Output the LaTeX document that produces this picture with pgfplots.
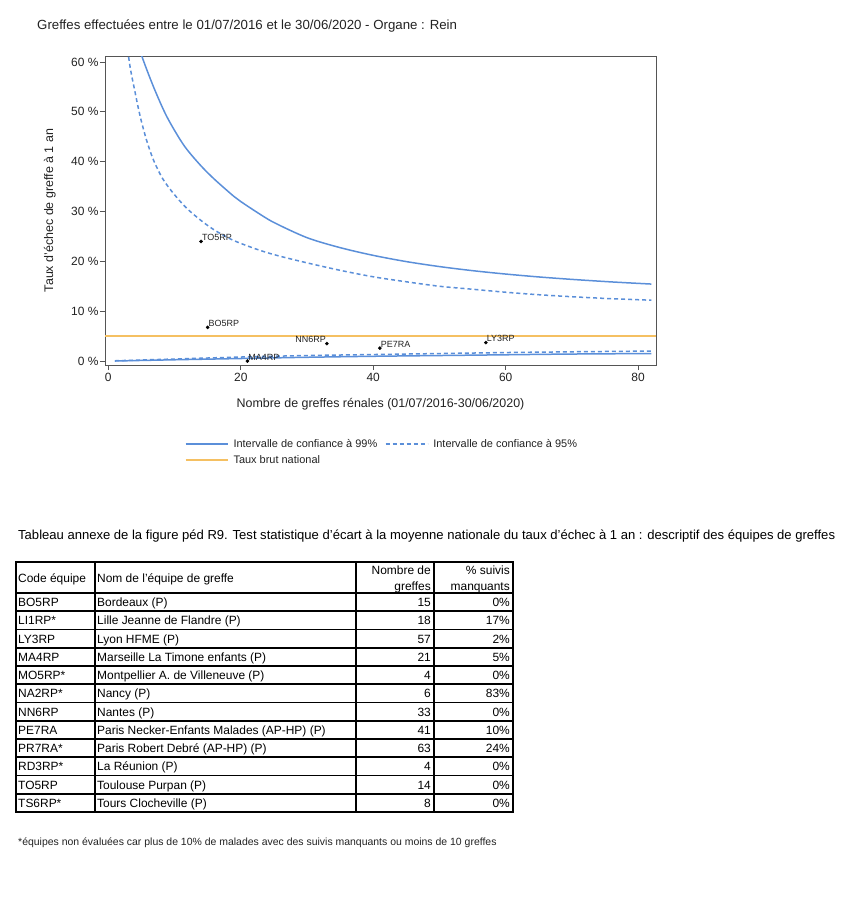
\documentclass[border=0pt]{standalone}
\usepackage{pgfplots}
\pgfplotsset{compat=1.18}
\usepackage{fontspec}
\setmainfont{Liberation Sans}
\definecolor{ciblue}{HTML}{5B8FD9}
\definecolor{natyel}{HTML}{F5C062}
\definecolor{axgray}{HTML}{555555}
\definecolor{txt}{HTML}{222222}
\newcommand{\fs}[1]{\fontsize{#1}{#1}\selectfont}

\begin{document}
\begin{tikzpicture}
\path (0,0) rectangle (844bp,-900bp);

\begin{axis}[
  at={(105bp,-365bp)}, anchor=south west,
  scale only axis, width=551bp, height=309bp,
  xmin=-0.5, xmax=82.7, ymin=-0.8, ymax=61.2,
  xtick={0,20,40,60,80}, ytick={0,10,...,60},
  /pgf/number format/assume math mode=true,
  yticklabel={\pgfmathprintnumber{\tick}~\%},
  tick align=outside, xtick pos=bottom, ytick pos=left,
  major tick length=5bp,
  axis line style={axgray, line width=1bp},
  tick style={axgray, line width=0.8bp},
  ticklabel style={font=\fs{12}, text=txt},
  yticklabel style={xshift=2bp},
  xlabel={Nombre de greffes rénales (01/07/2016-30/06/2020)},
  ylabel={Taux d'échec de greffe à 1 an},
  label style={font=\fs{12.5}, text=txt},
  xlabel style={at={(axis description cs:0.5,-0.126)}, anchor=center},
  ylabel style={at={(axis description cs:-0.1,0.5)}, anchor=center},
  legend columns=2,
  legend cell align=left,
  legend style={at={(0.144,-0.233)}, anchor=north west, draw=none, fill=none,
    font=\fs{11}, text=txt, inner sep=0pt, row sep=3bp,
    nodes={inner xsep=5bp},
    /tikz/every even column/.append style={column sep=2.5bp}},
  legend image code/.code={\draw[#1] (0bp,0bp) -- (42bp,0bp);},
]
% borne haute 99 %
\addplot[ciblue, line width=1.5bp, smooth] coordinates {
  (4.2,65) (5.08,61.1) (6.83,55) (8.85,49) (11.4,43.3) (13.9,39.3) (16,36.5)
  (18.9,33.1) (20,32.0) (22.5,29.8) (25,27.8) (30,24.75) (35,22.75)
  (40,21.2) (45,19.95) (50,18.95) (55,18.13) (60,17.45) (65,16.87)
  (70,16.38) (76,15.87) (82,15.44)};
\addlegendentry{Intervalle de confiance à 99\%}
% borne haute 95 %
\addplot[ciblue, line width=1.5bp, dash pattern=on 4bp off 3bp, smooth] coordinates {
  (2,75) (3.07,61) (4,54.2) (4.83,49) (5.8,44.2) (6.83,40.3) (8.2,36.6) (9.85,33.6)
  (11.8,30.7) (13.9,28.3) (16,26.3) (18.9,24.2) (22.9,22.2) (26,21.0)
  (30,19.7) (35,18.2) (40,16.9) (45,15.9) (50,15.0) (55,14.4) (60,13.8)
  (65,13.3) (70,12.9) (76,12.5) (82,12.2)};
\addlegendentry{Intervalle de confiance à 95\%}
% taux brut national
\addplot[natyel, line width=2bp] coordinates {(-0.5,5.07) (82.7,5.07)};
\addlegendentry{Taux brut national}
% bornes basses
\addplot[ciblue, line width=1.5bp, smooth, forget plot] coordinates {
  (1,0) (10,0.25) (20,0.5) (30,0.75) (40,0.95) (50,1.1) (60,1.25) (70,1.4) (82,1.5)};
\addplot[ciblue, line width=1.5bp, dash pattern=on 4bp off 3bp, smooth, forget plot] coordinates {
  (1,0.05) (10,0.4) (20,0.8) (30,1.1) (40,1.3) (50,1.5) (60,1.7) (70,1.85) (82,2.0)};
% equipes
\addplot[only marks, mark=*, mark size=1.6bp, black, forget plot,
  nodes near coords, point meta=explicit symbolic,
  nodes near coords style={anchor=south west, font=\fs{9}, text=txt, inner sep=0.8bp}]
  table[meta=lab, row sep=\\] {
  x y lab\\
  14 24.0 TO5RP\\
  15 6.75 BO5RP\\
  21 0.0 MA4RP\\
  41 2.6 PE7RA\\
  57 3.7 LY3RP\\
};
\addplot[only marks, mark=*, mark size=1.6bp, black, forget plot,
  nodes near coords, point meta=explicit symbolic,
  nodes near coords style={anchor=south east, font=\fs{9}, text=txt, inner sep=0.8bp}]
  table[meta=lab, row sep=\\] {
  x y lab\\
  33 3.5 NN6RP\\
};
\end{axis}

\begin{scope}[x=1bp, y=-1bp]
\node[anchor=base west, font=\fs{13.3}, text=txt, inner sep=0] at (37,29) {Greffes effectuées entre le 01/07/2016 et le 30/06/2020 - Organe : Rein};
\node[anchor=base west, font=\fs{13.1}, text=black, inner sep=0] at (18,539) {Tableau annexe de la figure péd R9. Test statistique d'écart à la moyenne nationale du taux d'échec à 1 an : descriptif des équipes de greffes};

% tableau
\draw[line width=1.6bp] (16,562) rectangle (513,812);
\foreach \xx in {95,356,434} \draw[line width=1.6bp] (\xx,562) -- (\xx,812);
\foreach \k in {0,...,11} \draw[line width=1.6bp] (16,593+18.25*\k) -- (513,593+18.25*\k);
\node[anchor=base west, font=\fs{12}, inner sep=0] at (18,582) {Code équipe};
\node[anchor=base west, font=\fs{12}, inner sep=0] at (97,582) {Nom de l'équipe de greffe};
\node[anchor=base east, font=\fs{12}, inner sep=0] at (431,574) {Nombre de};
\node[anchor=base east, font=\fs{12}, inner sep=0] at (431,590) {greffes};
\node[anchor=base east, font=\fs{12}, inner sep=0] at (510,574) {\% suivis};
\node[anchor=base east, font=\fs{12}, inner sep=0] at (510,590) {manquants};
\foreach \c/\n/\g/\m [count=\i from 0] in {
  BO5RP/Bordeaux (P)/15/0\%,
  LI1RP*/Lille Jeanne de Flandre (P)/18/17\%,
  LY3RP/Lyon HFME (P)/57/2\%,
  MA4RP/Marseille La Timone enfants (P)/21/5\%,
  MO5RP*/Montpellier A. de Villeneuve (P)/4/0\%,
  NA2RP*/Nancy (P)/6/83\%,
  NN6RP/Nantes (P)/33/0\%,
  PE7RA/Paris Necker-Enfants Malades (AP-HP) (P)/41/10\%,
  PR7RA*/Paris Robert Debré (AP-HP) (P)/63/24\%,
  RD3RP*/La Réunion (P)/4/0\%,
  TO5RP/Toulouse Purpan (P)/14/0\%,
  TS6RP*/Tours Clocheville (P)/8/0\%} {
  \pgfmathsetmacro{\yy}{593+18.25*\i+13.6}
  \node[anchor=base west, font=\fs{12}, inner sep=0] at (18,\yy) {\c};
  \node[anchor=base west, font=\fs{12}, inner sep=0] at (97,\yy) {\n};
  \node[anchor=base east, font=\fs{12}, inner sep=0] at (431,\yy) {\g};
  \node[anchor=base east, font=\fs{12}, inner sep=0] at (510,\yy) {\m};
}
\node[anchor=base west, font=\fs{10.5}, text=txt, inner sep=0] at (18,845) {*équipes non évaluées car plus de 10\% de malades avec des suivis manquants ou moins de 10 greffes};
\end{scope}
\end{tikzpicture}
\end{document}
